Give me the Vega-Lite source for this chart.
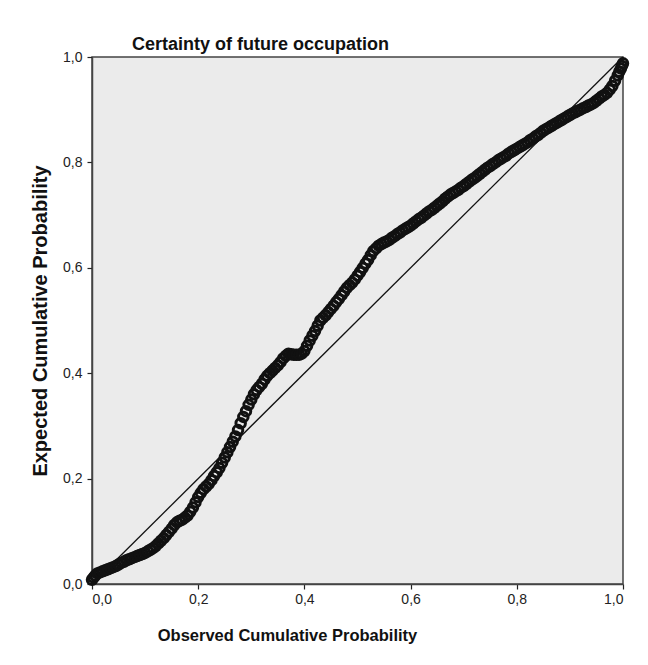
{
  "$schema": "https://vega.github.io/schema/vega-lite/v6.json",
  "width": 531,
  "height": 527,
  "autosize": {"type": "none"},
  "padding": {"left": 92, "top": 57, "right": 25, "bottom": 81},
  "background": "white",
  "title": {
    "text": "Certainty of future occupation",
    "anchor": "start",
    "frame": "group",
    "dx": 40,
    "offset": -4,
    "font": "Liberation Sans",
    "fontSize": 18,
    "fontWeight": "bold",
    "color": "#111"
  },
  "config": {
    "view": {"fill": "#EBEBEB", "stroke": "#444", "strokeWidth": 1.5},
    "axis": {
      "labelFont": "Liberation Sans",
      "labelFontSize": 14,
      "labelColor": "#222",
      "titleFont": "Liberation Sans",
      "titleFontWeight": "bold",
      "titleColor": "#111",
      "domainColor": "#444",
      "domainWidth": 1.5,
      "tickColor": "#222",
      "tickWidth": 1.2,
      "tickSize": 5,
      "grid": false
    }
  },
  "datasets": {
    "pp": [
      {"obs": 0.000, "exp": 0.008}, {"obs": 0.003, "exp": 0.012}, {"obs": 0.006, "exp": 0.016},
      {"obs": 0.010, "exp": 0.020}, {"obs": 0.015, "exp": 0.022}, {"obs": 0.020, "exp": 0.024},
      {"obs": 0.025, "exp": 0.026}, {"obs": 0.030, "exp": 0.028}, {"obs": 0.035, "exp": 0.030},
      {"obs": 0.040, "exp": 0.032}, {"obs": 0.045, "exp": 0.034}, {"obs": 0.050, "exp": 0.037},
      {"obs": 0.055, "exp": 0.040}, {"obs": 0.060, "exp": 0.042}, {"obs": 0.065, "exp": 0.045},
      {"obs": 0.070, "exp": 0.047}, {"obs": 0.075, "exp": 0.049}, {"obs": 0.080, "exp": 0.051},
      {"obs": 0.085, "exp": 0.053}, {"obs": 0.090, "exp": 0.055}, {"obs": 0.095, "exp": 0.057},
      {"obs": 0.100, "exp": 0.059}, {"obs": 0.105, "exp": 0.062}, {"obs": 0.110, "exp": 0.065},
      {"obs": 0.115, "exp": 0.068}, {"obs": 0.120, "exp": 0.072}, {"obs": 0.125, "exp": 0.077},
      {"obs": 0.130, "exp": 0.082}, {"obs": 0.135, "exp": 0.087}, {"obs": 0.140, "exp": 0.093},
      {"obs": 0.145, "exp": 0.099}, {"obs": 0.150, "exp": 0.105}, {"obs": 0.155, "exp": 0.112},
      {"obs": 0.160, "exp": 0.117}, {"obs": 0.165, "exp": 0.120}, {"obs": 0.170, "exp": 0.122},
      {"obs": 0.175, "exp": 0.126}, {"obs": 0.180, "exp": 0.130}, {"obs": 0.185, "exp": 0.137},
      {"obs": 0.190, "exp": 0.145}, {"obs": 0.195, "exp": 0.155}, {"obs": 0.200, "exp": 0.165},
      {"obs": 0.205, "exp": 0.173}, {"obs": 0.210, "exp": 0.180}, {"obs": 0.215, "exp": 0.185},
      {"obs": 0.220, "exp": 0.190}, {"obs": 0.225, "exp": 0.197}, {"obs": 0.230, "exp": 0.205},
      {"obs": 0.235, "exp": 0.212}, {"obs": 0.240, "exp": 0.220}, {"obs": 0.245, "exp": 0.230},
      {"obs": 0.250, "exp": 0.240}, {"obs": 0.255, "exp": 0.250}, {"obs": 0.260, "exp": 0.260},
      {"obs": 0.265, "exp": 0.270}, {"obs": 0.270, "exp": 0.280}, {"obs": 0.275, "exp": 0.292},
      {"obs": 0.280, "exp": 0.305}, {"obs": 0.285, "exp": 0.317}, {"obs": 0.290, "exp": 0.328},
      {"obs": 0.295, "exp": 0.340}, {"obs": 0.300, "exp": 0.350}, {"obs": 0.305, "exp": 0.360},
      {"obs": 0.310, "exp": 0.368}, {"obs": 0.315, "exp": 0.374}, {"obs": 0.320, "exp": 0.380},
      {"obs": 0.325, "exp": 0.388}, {"obs": 0.330, "exp": 0.395}, {"obs": 0.335, "exp": 0.400},
      {"obs": 0.340, "exp": 0.405}, {"obs": 0.345, "exp": 0.410}, {"obs": 0.350, "exp": 0.415},
      {"obs": 0.355, "exp": 0.421}, {"obs": 0.360, "exp": 0.428}, {"obs": 0.365, "exp": 0.433},
      {"obs": 0.370, "exp": 0.437}, {"obs": 0.375, "exp": 0.436}, {"obs": 0.380, "exp": 0.435},
      {"obs": 0.385, "exp": 0.435}, {"obs": 0.390, "exp": 0.435}, {"obs": 0.395, "exp": 0.437},
      {"obs": 0.400, "exp": 0.442}, {"obs": 0.405, "exp": 0.452}, {"obs": 0.410, "exp": 0.462},
      {"obs": 0.415, "exp": 0.471}, {"obs": 0.420, "exp": 0.480}, {"obs": 0.425, "exp": 0.490},
      {"obs": 0.430, "exp": 0.500}, {"obs": 0.435, "exp": 0.505}, {"obs": 0.440, "exp": 0.510},
      {"obs": 0.445, "exp": 0.516}, {"obs": 0.450, "exp": 0.522}, {"obs": 0.455, "exp": 0.528},
      {"obs": 0.460, "exp": 0.535}, {"obs": 0.465, "exp": 0.541}, {"obs": 0.470, "exp": 0.548},
      {"obs": 0.475, "exp": 0.555}, {"obs": 0.480, "exp": 0.562}, {"obs": 0.485, "exp": 0.567},
      {"obs": 0.490, "exp": 0.572}, {"obs": 0.495, "exp": 0.578}, {"obs": 0.500, "exp": 0.585},
      {"obs": 0.505, "exp": 0.592}, {"obs": 0.510, "exp": 0.600}, {"obs": 0.515, "exp": 0.608},
      {"obs": 0.520, "exp": 0.615}, {"obs": 0.525, "exp": 0.624}, {"obs": 0.530, "exp": 0.632},
      {"obs": 0.535, "exp": 0.637}, {"obs": 0.540, "exp": 0.642}, {"obs": 0.545, "exp": 0.645},
      {"obs": 0.550, "exp": 0.648}, {"obs": 0.555, "exp": 0.650}, {"obs": 0.560, "exp": 0.653},
      {"obs": 0.565, "exp": 0.657}, {"obs": 0.570, "exp": 0.660}, {"obs": 0.575, "exp": 0.664},
      {"obs": 0.580, "exp": 0.667}, {"obs": 0.585, "exp": 0.671}, {"obs": 0.590, "exp": 0.674},
      {"obs": 0.595, "exp": 0.677}, {"obs": 0.600, "exp": 0.680}, {"obs": 0.605, "exp": 0.684},
      {"obs": 0.610, "exp": 0.688}, {"obs": 0.615, "exp": 0.692}, {"obs": 0.620, "exp": 0.695},
      {"obs": 0.625, "exp": 0.699}, {"obs": 0.630, "exp": 0.703}, {"obs": 0.635, "exp": 0.707},
      {"obs": 0.640, "exp": 0.710}, {"obs": 0.645, "exp": 0.714}, {"obs": 0.650, "exp": 0.718},
      {"obs": 0.655, "exp": 0.722}, {"obs": 0.660, "exp": 0.726}, {"obs": 0.665, "exp": 0.731},
      {"obs": 0.670, "exp": 0.735}, {"obs": 0.675, "exp": 0.739}, {"obs": 0.680, "exp": 0.742},
      {"obs": 0.685, "exp": 0.745}, {"obs": 0.690, "exp": 0.748}, {"obs": 0.695, "exp": 0.752},
      {"obs": 0.700, "exp": 0.755}, {"obs": 0.705, "exp": 0.759}, {"obs": 0.710, "exp": 0.763},
      {"obs": 0.715, "exp": 0.767}, {"obs": 0.720, "exp": 0.770}, {"obs": 0.725, "exp": 0.774},
      {"obs": 0.730, "exp": 0.778}, {"obs": 0.735, "exp": 0.782}, {"obs": 0.740, "exp": 0.786},
      {"obs": 0.745, "exp": 0.790}, {"obs": 0.750, "exp": 0.793}, {"obs": 0.755, "exp": 0.797},
      {"obs": 0.760, "exp": 0.800}, {"obs": 0.765, "exp": 0.804}, {"obs": 0.770, "exp": 0.807},
      {"obs": 0.775, "exp": 0.810}, {"obs": 0.780, "exp": 0.813}, {"obs": 0.785, "exp": 0.817},
      {"obs": 0.790, "exp": 0.820}, {"obs": 0.795, "exp": 0.823}, {"obs": 0.800, "exp": 0.826},
      {"obs": 0.805, "exp": 0.829}, {"obs": 0.810, "exp": 0.832}, {"obs": 0.815, "exp": 0.835},
      {"obs": 0.820, "exp": 0.838}, {"obs": 0.825, "exp": 0.842}, {"obs": 0.830, "exp": 0.845},
      {"obs": 0.835, "exp": 0.849}, {"obs": 0.840, "exp": 0.852}, {"obs": 0.845, "exp": 0.856},
      {"obs": 0.850, "exp": 0.860}, {"obs": 0.855, "exp": 0.863}, {"obs": 0.860, "exp": 0.866},
      {"obs": 0.865, "exp": 0.869}, {"obs": 0.870, "exp": 0.872}, {"obs": 0.875, "exp": 0.875},
      {"obs": 0.880, "exp": 0.878}, {"obs": 0.885, "exp": 0.881}, {"obs": 0.890, "exp": 0.884},
      {"obs": 0.895, "exp": 0.887}, {"obs": 0.900, "exp": 0.890}, {"obs": 0.905, "exp": 0.893},
      {"obs": 0.910, "exp": 0.895}, {"obs": 0.915, "exp": 0.898}, {"obs": 0.920, "exp": 0.900},
      {"obs": 0.925, "exp": 0.903}, {"obs": 0.930, "exp": 0.905}, {"obs": 0.935, "exp": 0.908},
      {"obs": 0.940, "exp": 0.910}, {"obs": 0.945, "exp": 0.913}, {"obs": 0.950, "exp": 0.917},
      {"obs": 0.955, "exp": 0.921}, {"obs": 0.960, "exp": 0.925}, {"obs": 0.965, "exp": 0.928},
      {"obs": 0.970, "exp": 0.932}, {"obs": 0.975, "exp": 0.938}, {"obs": 0.980, "exp": 0.945},
      {"obs": 0.985, "exp": 0.955}, {"obs": 0.990, "exp": 0.965}, {"obs": 0.993, "exp": 0.972},
      {"obs": 0.996, "exp": 0.978}, {"obs": 0.998, "exp": 0.983}, {"obs": 1.000, "exp": 0.988}
    ],
    "ref": [{"obs": 0, "exp": 0}, {"obs": 1, "exp": 1}]
  },
  "layer": [
    {
      "data": {"name": "ref"},
      "mark": {"type": "line", "color": "#111", "strokeWidth": 1.3},
      "encoding": {
        "x": {"field": "obs", "type": "quantitative"},
        "y": {"field": "exp", "type": "quantitative"}
      }
    },
    {
      "data": {"name": "pp"},
      "mark": {"type": "point", "shape": "circle", "filled": false, "stroke": "#111", "strokeWidth": 3, "size": 90, "opacity": 1},
      "encoding": {
        "x": {
          "field": "obs",
          "type": "quantitative",
          "scale": {"domain": [0, 1], "nice": false, "zero": false},
          "axis": {
            "title": "Observed Cumulative Probability",
            "values": [0, 0.2, 0.4, 0.6, 0.8, 1],
            "labelExpr": "replace(format(datum.value, '.1f'), '.', ',')",
            "labelPadding": 3,
            "titleFontSize": 16.5,
            "titleAlign": "center",
            "titleX": 195,
            "titleY": 56,
            "titleBaseline": "alphabetic"
          }
        },
        "y": {
          "field": "exp",
          "type": "quantitative",
          "scale": {"domain": [0, 1], "nice": false, "zero": false},
          "axis": {
            "title": "Expected Cumulative Probability",
            "values": [0, 0.2, 0.4, 0.6, 0.8, 1],
            "labelExpr": "replace(format(datum.value, '.1f'), '.', ',')",
            "labelPadding": 5,
            "titleFontSize": 20,
            "titlePadding": 12
          }
        }
      }
    }
  ]
}
